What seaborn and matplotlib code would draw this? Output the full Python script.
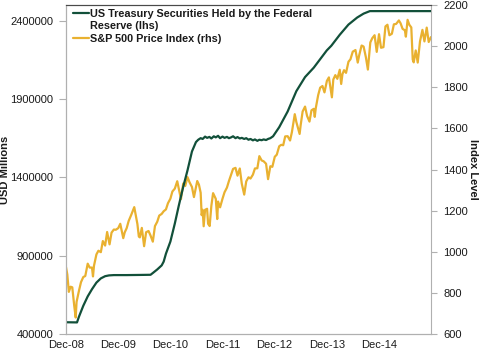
import matplotlib
matplotlib.use("Agg")
import matplotlib.pyplot as plt
import matplotlib.dates as mdates
from matplotlib.ticker import FuncFormatter, FixedLocator
from matplotlib.lines import Line2D
import seaborn as sns
import pandas as pd

# ---------------- data ----------------
treasury_dates = [
    "2008-12-31", "2009-03-18", "2009-04-01", "2009-05-01", "2009-06-01", "2009-07-01",
    "2009-08-01", "2009-09-01", "2009-10-01", "2009-10-28", "2009-12-01", "2010-03-01",
    "2010-06-01", "2010-08-15", "2010-09-01", "2010-10-01", "2010-11-01", "2010-11-15",
    "2010-12-01", "2011-01-01", "2011-02-01", "2011-03-01", "2011-04-01", "2011-05-01",
    "2011-06-01", "2011-06-29", "2011-07-15", "2011-08-01", "2011-08-15", "2011-09-01",
    "2011-09-15", "2011-10-01", "2011-10-15", "2011-11-01", "2011-11-15", "2011-12-01",
    "2011-12-15", "2012-01-01", "2012-01-15", "2012-02-01", "2012-02-15", "2012-03-01",
    "2012-03-15", "2012-04-01", "2012-04-15", "2012-05-01", "2012-05-15", "2012-06-01",
    "2012-06-15", "2012-07-01", "2012-07-15", "2012-08-01", "2012-08-15", "2012-09-01",
    "2012-09-15", "2012-10-01", "2012-10-15", "2012-11-01", "2012-11-15", "2012-12-01",
    "2012-12-20", "2013-02-01", "2013-04-01", "2013-06-01", "2013-08-01", "2013-10-01",
    "2013-12-31", "2014-02-01", "2014-04-01", "2014-06-01", "2014-08-01", "2014-09-15",
    "2014-10-29", "2015-06-01", "2015-12-31",
]
treasury_values = [
    475000, 474000, 511000, 580000, 640000, 686000,
    728000, 755000, 769000, 774000, 776000, 776000,
    777000, 778000, 790000, 812000, 838000, 862000,
    913000, 990000, 1105000, 1220000, 1340000, 1445000,
    1565000, 1625000, 1640000, 1650000, 1645000, 1660000,
    1652000, 1658000, 1648000, 1662000, 1655000, 1665000,
    1650000, 1660000, 1652000, 1658000, 1650000, 1655000,
    1662000, 1650000, 1657000, 1648000, 1652000, 1645000,
    1650000, 1640000, 1645000, 1636000, 1642000, 1633000,
    1640000, 1637000, 1642000, 1638000, 1645000, 1650000,
    1662000, 1720000, 1820000, 1950000, 2040000, 2100000,
    2210000, 2240000, 2310000, 2375000, 2420000, 2445000,
    2461000, 2461000, 2461000,
]

spx_dates = [
    "2008-12-31", "2009-01-09", "2009-01-20", "2009-02-01", "2009-02-13", "2009-02-27",
    "2009-03-09", "2009-03-15", "2009-04-01", "2009-04-15", "2009-05-01", "2009-05-15",
    "2009-06-01", "2009-06-15", "2009-07-01", "2009-07-08", "2009-07-15", "2009-08-01",
    "2009-08-15", "2009-09-01", "2009-09-15", "2009-10-01", "2009-10-15", "2009-11-01",
    "2009-11-15", "2009-12-01", "2009-12-15", "2010-01-01", "2010-01-15", "2010-02-05",
    "2010-02-15", "2010-03-01", "2010-03-15", "2010-04-01", "2010-04-23", "2010-05-01",
    "2010-05-15", "2010-05-25", "2010-06-01", "2010-06-15", "2010-07-01", "2010-07-15",
    "2010-08-01", "2010-08-15", "2010-08-31", "2010-09-15", "2010-10-01", "2010-10-15",
    "2010-11-01", "2010-11-15", "2010-12-01", "2010-12-15", "2011-01-01", "2011-01-15",
    "2011-02-01", "2011-02-18", "2011-03-01", "2011-03-16", "2011-04-01", "2011-04-15",
    "2011-05-01", "2011-05-15", "2011-06-01", "2011-06-15", "2011-07-08", "2011-07-20",
    "2011-08-01", "2011-08-08", "2011-08-15", "2011-08-22", "2011-09-01", "2011-09-15",
    "2011-09-22", "2011-10-03", "2011-10-15", "2011-10-27", "2011-11-15", "2011-11-25",
    "2011-12-01", "2011-12-15", "2012-01-01", "2012-01-15", "2012-02-01", "2012-02-15",
    "2012-03-01", "2012-03-15", "2012-04-01", "2012-04-15", "2012-05-01", "2012-05-15",
    "2012-06-01", "2012-06-15", "2012-07-01", "2012-07-15", "2012-08-01", "2012-08-15",
    "2012-09-01", "2012-09-15", "2012-10-01", "2012-10-15", "2012-11-01", "2012-11-15",
    "2012-12-01", "2012-12-15", "2013-01-01", "2013-01-15", "2013-02-01", "2013-02-15",
    "2013-03-01", "2013-03-15", "2013-04-01", "2013-04-18", "2013-05-01", "2013-05-21",
    "2013-06-01", "2013-06-24", "2013-07-01", "2013-07-15", "2013-08-01", "2013-08-15",
    "2013-09-01", "2013-09-15", "2013-10-01", "2013-10-08", "2013-10-15", "2013-11-01",
    "2013-11-15", "2013-12-01", "2013-12-15", "2014-01-01", "2014-01-15", "2014-02-05",
    "2014-02-15", "2014-03-01", "2014-03-15", "2014-04-01", "2014-04-11", "2014-04-20",
    "2014-05-01", "2014-05-15", "2014-06-01", "2014-06-15", "2014-07-01", "2014-07-20",
    "2014-08-05", "2014-08-15", "2014-09-01", "2014-09-15", "2014-10-01", "2014-10-15",
    "2014-11-01", "2014-11-15", "2014-12-01", "2014-12-16", "2015-01-01", "2015-01-15",
    "2015-02-01", "2015-02-15", "2015-03-01", "2015-03-15", "2015-04-01", "2015-04-15",
    "2015-05-01", "2015-05-20", "2015-06-01", "2015-06-15", "2015-07-01", "2015-07-08",
    "2015-07-20", "2015-08-01", "2015-08-15", "2015-08-25", "2015-09-01", "2015-09-15",
    "2015-09-29", "2015-10-15", "2015-11-01", "2015-11-15", "2015-12-01", "2015-12-15",
    "2015-12-31",
]
spx_values = [
    925, 890, 805, 830, 827, 735,
    680, 756, 811, 852, 877, 882,
    942, 923, 923, 880, 932, 987,
    1005, 998, 1052, 1030, 1096, 1036,
    1093, 1108, 1107, 1115, 1136, 1066,
    1094, 1115, 1150, 1178, 1217, 1187,
    1135, 1074, 1070, 1116, 1027, 1095,
    1101, 1079, 1049, 1125, 1146, 1176,
    1184, 1197, 1206, 1236, 1258, 1293,
    1307, 1343, 1306, 1256, 1332, 1320,
    1363, 1338, 1315, 1266, 1344, 1326,
    1287, 1178, 1204, 1124, 1204, 1209,
    1136, 1125, 1224, 1285, 1257, 1159,
    1244, 1216, 1258, 1289, 1312, 1344,
    1374, 1403, 1408, 1370, 1405, 1331,
    1278, 1342, 1362, 1356, 1375, 1405,
    1406, 1465, 1444, 1440, 1428, 1353,
    1416, 1413, 1462, 1472, 1513, 1520,
    1518, 1561, 1562, 1541, 1582, 1669,
    1631, 1573, 1614, 1682, 1706, 1661,
    1633, 1688, 1695, 1656, 1698, 1762,
    1798, 1806, 1775, 1831, 1848, 1751,
    1838, 1859, 1841, 1885, 1816, 1864,
    1883, 1870, 1924, 1936, 1973, 1981,
    1920, 1955, 2003, 1998, 1946, 1886,
    2018, 2039, 2053, 1972, 2058, 1992,
    1995, 2096, 2104, 2053, 2060, 2106,
    2108, 2125, 2111, 2084, 2077, 2046,
    2128, 2104, 2091, 1935, 1921, 1979,
    1920, 2023, 2079, 2023, 2090, 2020,
    2044,
]

x_tick_dates = ["2008-12-31", "2009-12-31", "2010-12-31", "2011-12-31",
                "2012-12-31", "2013-12-31", "2014-12-31"]
x_tick_labels = ["Dec-08", "Dec-09", "Dec-10", "Dec-11", "Dec-12", "Dec-13", "Dec-14"]
left_ticks = [400000, 900000, 1400000, 1900000, 2400000]
right_ticks = [600, 800, 1000, 1200, 1400, 1600, 1800, 2000, 2200]

label_treasury_1 = "US Treasury Securities Held by the Federal"
label_treasury_2 = "Reserve (lhs)"
label_spx = "S&P 500 Price Index (rhs)"

# ---------------- plotting ----------------
sns.set_style("white")
plt.rcParams["font.family"] = ["Liberation Sans", "DejaVu Sans"]

GREEN = "#12503A"
GOLD = "#E9B130"
TXT = "#1a1a1a"
GRAY = "#b0b0b0"
FS = 8

df_t = pd.DataFrame({"date": pd.to_datetime(treasury_dates), "value": treasury_values})
df_s = pd.DataFrame({"date": pd.to_datetime(spx_dates), "value": spx_values})

fig = plt.figure(figsize=(4.99, 3.57), dpi=100)
ax = fig.add_axes([66 / 499, 23 / 357, 365 / 499, 329 / 357])
ax2 = ax.twinx()

sns.lineplot(data=df_s, x="date", y="value", ax=ax2, color=GOLD, lw=1.6, legend=False)
sns.lineplot(data=df_t, x="date", y="value", ax=ax, color=GREEN, lw=1.6, legend=False)

# draw treasury line above the gold line
ax.set_zorder(ax2.get_zorder() + 1)
ax.patch.set_visible(False)

ax.set_xlim(pd.Timestamp("2008-12-31"), pd.Timestamp("2015-12-31"))
ax.set_ylim(400000, 2500000)
ax2.set_ylim(600, 2200)

ax.xaxis.set_major_locator(FixedLocator(mdates.date2num(pd.to_datetime(x_tick_dates))))
ax.set_xticklabels(x_tick_labels)
ax.set_yticks(left_ticks)
ax.yaxis.set_major_formatter(FuncFormatter(lambda v, p: f"{int(v)}"))
ax2.set_yticks(right_ticks)

ax.set_xlabel("")
ax.set_ylabel("USD Millions", fontsize=FS, fontweight="bold", color=TXT)
ax.yaxis.set_label_coords(-0.153, 0.5)
ax2.set_ylabel("Index Level", fontsize=FS, fontweight="bold", color=TXT, rotation=270,
               va="center")
ax2.yaxis.set_label_coords(1.115, 0.5)

ax.tick_params(axis="x", direction="in", length=3, color=GRAY, labelsize=FS,
               labelcolor=TXT, pad=4)
ax.tick_params(axis="y", direction="out", length=5, color=GRAY, labelsize=FS,
               labelcolor=TXT, pad=4)
ax2.tick_params(axis="y", direction="out", length=4, color=GRAY, labelsize=FS,
                labelcolor=TXT, pad=5)

for a in (ax, ax2):
    for side in ("left", "right", "bottom"):
        a.spines[side].set_color(GRAY)
        a.spines[side].set_linewidth(0.8)
    a.spines["top"].set_color("#4a4a4a")
    a.spines["top"].set_linewidth(0.8)
ax.spines["right"].set_visible(False)

handles = [
    Line2D([], [], color=GREEN, lw=1.6),
    Line2D([], [], color="none", lw=1.6),
    Line2D([], [], color=GOLD, lw=1.6),
]
labels = [label_treasury_1, label_treasury_2, label_spx]
leg = ax.legend(handles, labels, loc="upper left", bbox_to_anchor=(0.018, 0.987),
                frameon=False, fontsize=7.8, handlelength=1.5, handletextpad=0.1,
                labelspacing=0.2, borderaxespad=0.0, borderpad=0.0)
for t in leg.get_texts():
    t.set_fontweight("bold")
    t.set_color(TXT)

fig.savefig("out.png", dpi=100)
